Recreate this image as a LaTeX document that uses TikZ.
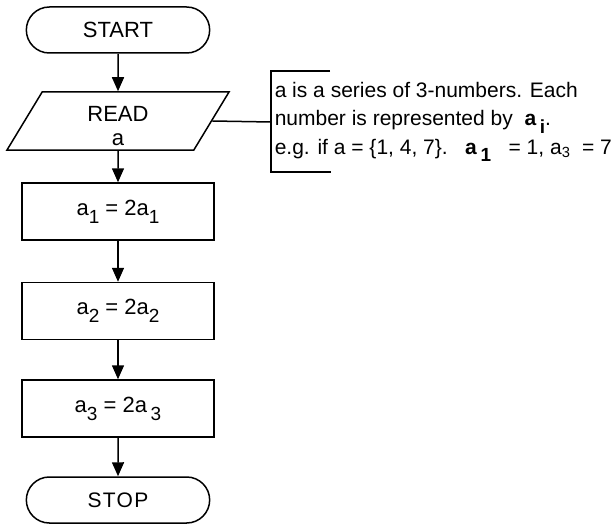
\documentclass[tikz,border=0pt]{standalone}
\usepackage{fontspec}
\setmainfont{Liberation Sans}
\usetikzlibrary{shapes.geometric, shapes.misc, arrows.meta}
\newcommand{\idx}[1]{\raisebox{-0.7ex}{\fontsize{19}{19}\selectfont #1}}
\newcommand{\fsz}{\fontsize{22}{23}\selectfont}

\begin{document}
\begin{tikzpicture}[x=1pt, y=-1pt,
					>={Triangle[width=12pt,length=14pt]},   %Pfeilspitzen
					line width=1.5pt,
					terminal/.style={draw, rounded rectangle, minimum width=190pt, minimum height=46pt, font=\fsz},
					io/.style={draw, trapezium, trapezium left angle=55, trapezium right angle=125, trapezium stretches body, minimum width=222pt, minimum height=58pt, inner sep=0pt, align=center, font=\fsz},
					process/.style={draw, rectangle, minimum width=192pt, minimum height=57pt, font=\fsz},
					note/.style={anchor=west, align=left, inner sep=0pt, font=\fontsize{21}{28.5}\selectfont}]
					%Bildbereich
					\useasboundingbox (0,0) rectangle (612,524);
					%Knoten zeichnen
					\node[terminal] (start) at (118,30) {START};
					\node[io] (read) at (118,121) {\rule{0pt}{26pt}READ\\[1pt]a};
					\node[process] (p1) at (118,211.5) {a\idx{1} = 2a\idx{1}};
					\node[process] (p2) at (118,311) {a\idx{2} = 2a\idx{2}};
					\node[process] (p3) at (118,408.5) {a\idx{3} = 2a\,\idx{3}};
					\node[terminal, font=\fontsize{21}{23}\selectfont\addfontfeature{LetterSpace=6}] (stop) at (118,500) {STOP};
					%Pfeile zeichnen
					\draw[->] (start) -- (read);
					\draw[->] (read) -- (p1);
					\draw[->] (p1) -- (p2);
					\draw[->] (p2) -- (p3);
					\draw[->] (p3) -- (stop);
					%Anmerkung
					\coordinate (klammer) at (271,122);
					\draw (read.east) -- (klammer);
					\draw (330,71) -- (271,71) -- (271,172) -- (331,172);
					\node[note] (info) at (274,122) {a is a series of 3-numbers. Each\\
						number is represented by \ \textbf{a}\,\idx{\textbf{i}}.\\
						e.g. if a = \{1, 4, 7\}.\ \ \ \textbf{a}\,\idx{\textbf{1}} \ \ = 1, a\textsubscript{3} \ = 7};
				\end{tikzpicture}
\end{document}
